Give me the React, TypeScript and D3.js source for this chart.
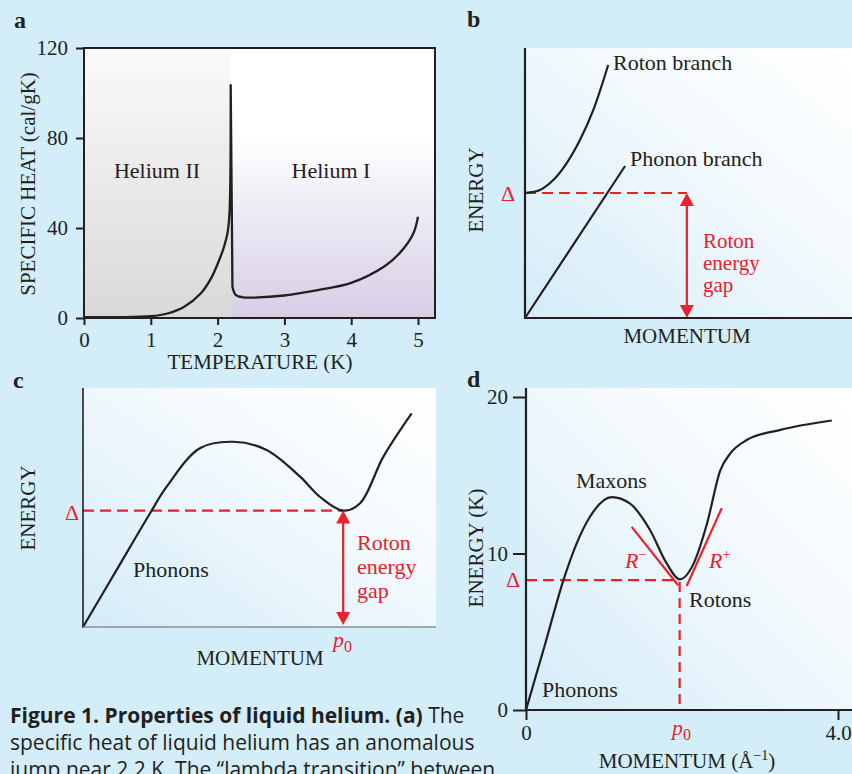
import React from "react";
import * as d3 from "d3";
import { scaleLinear, axisBottom, axisLeft, select, line, curveMonotoneX, curveCatmullRom } from "d3";

const INK = "#231f20";
const RED = "#e8212b";
const BG = "#d3edf9";
const SERIF = "'Liberation Serif', 'Times New Roman', serif";
const SANS = "'Open Sans', 'Noto Sans', sans-serif";

// (a) specific heat of liquid helium vs temperature: below and above the lambda point
const tempBelow = [0, 0.5, 1.0, 1.25, 1.5, 1.75, 1.9, 2.0, 2.1, 2.15, 2.18, 2.196];
const heatBelow = [0.4, 0.4, 0.8, 2, 5, 11, 17.5, 24, 32, 38, 48, 103.5];
const tempAbove = [2.196, 2.212, 2.222];
const heatAbove = [103.5, 50, 14];
const tempHigh = [2.222, 2.27, 2.38, 2.55, 3.0, 3.5, 4.0, 4.5, 4.73, 4.93, 5.0];
const heatHigh = [14, 10.3, 9.2, 9.1, 10, 12.4, 15.6, 23, 29, 37.6, 45];
const heatTicks = [0, 40, 80, 120];
const tempTicks = [0, 1, 2, 3, 4, 5];
const lambdaT = 2.2;

// (b) two-branch picture (arbitrary units)
const rotonP = [0, 0.046, 0.087, 0.128, 0.169, 0.21, 0.256];
const rotonE = [0.463, 0.474, 0.511, 0.573, 0.659, 0.77, 0.937];
const phononP = [0, 0.308];
const phononE = [0, 0.563];
const gapB = 0.463;
const arrowPB = 0.498;

// (c) single dispersion curve (arbitrary units)
const momC = [0, 0.095, 0.19, 0.237, 0.331, 0.426, 0.52, 0.615, 0.671, 0.737, 0.785, 0.851, 0.931];
const energyC = [0, 0.238, 0.476, 0.587, 0.748, 0.775, 0.741, 0.629, 0.545, 0.487, 0.518, 0.713, 0.894];
const gapC = 0.487;
const p0C = 0.737;

// (d) measured dispersion, energy in K vs momentum in 1/Å
const momD = [0, 0.25, 0.48, 0.65, 0.82, 1.1, 1.33, 1.59, 1.8, 1.97, 2.15, 2.32, 2.49, 2.62, 2.83, 3.26, 3.92];
const energyD = [0, 4.3, 8.3, 10.65, 12.35, 13.6, 13.2, 11.5, 9.4, 8.35, 9.37, 11.9, 15.3, 16.4, 17.25, 17.9, 18.5];
const gapD = 8.3;
const p0D = 1.97;
const rMinus = [[1.355, 11.7], [1.95, 7.97]];
const rPlus = [[2.06, 7.92], [2.51, 12.9]];
const energyTicksD = [0, 10, 20];
const momTicksD = [0, 4];

const xA = scaleLinear().domain([0, 5]).range([84, 418]);
const yA = scaleLinear().domain([0, 120]).range([318, 48]);
const xB = scaleLinear().domain([0, 1]).range([525, 850]);
const yB = scaleLinear().domain([0, 1]).range([318, 48]);
const xC = scaleLinear().domain([0, 1]).range([83, 436]);
const yC = scaleLinear().domain([0, 1]).range([627, 388]);
const xD = scaleLinear().domain([0, 4]).range([526, 838]);
const yD = scaleLinear().domain([0, 20]).range([710, 397]);

function curvePath(xs, ys, sx, sy, curve = curveMonotoneX) {
  const pts = xs.map((x, i) => [x, ys[i]]);
  return line()
    .x((d) => sx(d[0]))
    .y((d) => sy(d[1]))
    .curve(curve)(pts);
}

function styleAxis(el, axis) {
  const g = select(el).call(axis);
  g.attr("font-family", SERIF).attr("font-size", 21);
  g.select(".domain").remove();
  g.selectAll("line").attr("stroke", INK).attr("stroke-width", 2);
  g.selectAll("text").attr("fill", INK);
}

function Arrow({ x, top, bottom }) {
  const hl = 13;
  const hw = 7;
  return (
    <g>
      <line x1={x} x2={x} y1={top + hl - 1} y2={bottom - hl + 1} stroke={RED} strokeWidth={2.2} />
      <path d={`M${x},${top}L${x - hw},${top + hl}L${x + hw},${top + hl}Z`} fill={RED} />
      <path d={`M${x},${bottom}L${x - hw},${bottom - hl}L${x + hw},${bottom - hl}Z`} fill={RED} />
    </g>
  );
}

function GapLabel({ x, y, step, size = 22 }) {
  return (
    <text x={x} y={y} fontFamily={SERIF} fontSize={size} fill={RED}>
      <tspan x={x}>Roton</tspan>
      <tspan x={x} dy={step}>energy</tspan>
      <tspan x={x} dy={step}>gap</tspan>
    </text>
  );
}

function P0({ x, y }) {
  return (
    <text x={x} y={y} fill={RED} fontSize={22} fontFamily={SERIF}>
      <tspan fontStyle="italic">p</tspan>
      <tspan fontSize={16} dy={5}>0</tspan>
    </text>
  );
}

export default function App() {
  const dash = "11,6";
  const smooth = curveCatmullRom.alpha(0.5);

  const xAxisA = (el) => el && styleAxis(el, axisBottom(xA).tickValues(tempTicks).tickSize(7).tickPadding(7).tickFormat(d3.format("d")));
  const yAxisA = (el) => el && styleAxis(el, axisLeft(yA).tickValues(heatTicks).tickSize(8).tickPadding(8));
  const xAxisD = (el) =>
    el && styleAxis(el, axisBottom(xD).tickValues(momTicksD).tickSize(10).tickPadding(5).tickFormat((d) => (d === 0 ? "0" : d.toFixed(1))));
  const yAxisD = (el) => el && styleAxis(el, axisLeft(yD).tickValues(energyTicksD).tickSize(13).tickPadding(5));

  const heatPath =
    curvePath(tempBelow, heatBelow, xA, yA, smooth) +
    curvePath(tempAbove, heatAbove, xA, yA, d3.curveLinear).replace(/^M/, "L") +
    curvePath(tempHigh, heatHigh, xA, yA, smooth).replace(/^M/, "L");

  return (
    <div style={{ position: "absolute", left: 0, top: 0 }}>
      <svg width={852} height={774} style={{ display: "block" }}>
        <defs>
          <linearGradient id="gA1" x1="0" y1="0" x2="0" y2="1">
            <stop offset="0" stopColor="#fafafa" />
            <stop offset="1" stopColor="#d9d9d9" />
          </linearGradient>
          <linearGradient id="gA2" x1="0" y1="0" x2="0" y2="1">
            <stop offset="0" stopColor="#ffffff" />
            <stop offset="0.32" stopColor="#ffffff" />
            <stop offset="1" stopColor="#d6cee5" />
          </linearGradient>
          <linearGradient id="gBlue" x1="0" y1="1" x2="1" y2="0">
            <stop offset="0" stopColor="#d4ecf8" />
            <stop offset="0.6" stopColor="#f4fafd" />
            <stop offset="1" stopColor="#ffffff" />
          </linearGradient>
        </defs>
        <rect width={852} height={774} fill={BG} />

        {/* panel a */}
        <text x={14} y={28} fontFamily={SERIF} fontWeight="bold" fontSize={24} fill={INK}>a</text>
        <rect x={xA(0)} y={yA(120)} width={xA(lambdaT) - xA(0)} height={yA(0) - yA(120)} fill="url(#gA1)" />
        <rect x={xA(lambdaT)} y={yA(120)} width={435 - xA(lambdaT)} height={yA(0) - yA(120)} fill="url(#gA2)" />
        <text x={157} y={178} textAnchor="middle" fontFamily={SERIF} fontSize={22} fill={INK}>Helium II</text>
        <text x={331} y={178} textAnchor="middle" fontFamily={SERIF} fontSize={22} fill={INK}>Helium I</text>
        <path d={heatPath} fill="none" stroke={INK} strokeWidth={2.3} strokeLinejoin="round" />
        <rect x={xA(0)} y={yA(120)} width={435 - xA(0)} height={yA(0) - yA(120)} fill="none" stroke={INK} strokeWidth={2} />
        <g ref={xAxisA} transform={`translate(0,${yA(0)})`} />
        <g ref={yAxisA} transform={`translate(${xA(0)},0)`} />
        <text transform="translate(35,184) rotate(-90)" textAnchor="middle" fontFamily={SERIF} fontSize={21} fill={INK}>
          SPECIFIC HEAT (cal/gK)
        </text>
        <text x={260} y={369} textAnchor="middle" fontFamily={SERIF} fontSize={21} fill={INK}>TEMPERATURE (K)</text>

        {/* panel b */}
        <text x={467} y={27} fontFamily={SERIF} fontWeight="bold" fontSize={24} fill={INK}>b</text>
        <rect x={xB(0)} y={yB(1)} width={852 - xB(0)} height={yB(0) - yB(1)} fill="url(#gBlue)" />
        <line x1={xB(0)} x2={xB(arrowPB)} y1={yB(gapB)} y2={yB(gapB)} stroke={RED} strokeWidth={2.2} strokeDasharray={dash} />
        <path d={curvePath(rotonP, rotonE, xB, yB, smooth)} fill="none" stroke={INK} strokeWidth={2.2} />
        <path d={curvePath(phononP, phononE, xB, yB)} fill="none" stroke={INK} strokeWidth={2.2} />
        <Arrow x={xB(arrowPB)} top={yB(gapB)} bottom={yB(0)} />
        <line x1={xB(0)} x2={xB(0)} y1={yB(1)} y2={yB(0) + 1} stroke={INK} strokeWidth={2.2} />
        <line x1={xB(0) - 1} x2={852} y1={yB(0)} y2={yB(0)} stroke={INK} strokeWidth={2.2} />
        <text x={613} y={70} fontFamily={SERIF} fontSize={22} fill={INK}>Roton branch</text>
        <text x={630} y={166} fontFamily={SERIF} fontSize={22} fill={INK}>Phonon branch</text>
        <text x={508} y={201} textAnchor="middle" fontFamily={SERIF} fontSize={22} fill={RED}>Δ</text>
        <GapLabel x={703} y={248} step={22} size={21} />
        <text transform="translate(483,190) rotate(-90)" textAnchor="middle" fontFamily={SERIF} fontSize={21} fill={INK}>ENERGY</text>
        <text x={687} y={343} textAnchor="middle" fontFamily={SERIF} fontSize={21} fill={INK}>MOMENTUM</text>

        {/* panel c */}
        <text x={13} y={388} fontFamily={SERIF} fontWeight="bold" fontSize={24} fill={INK}>c</text>
        <rect x={xC(0)} y={yC(1)} width={xC(1) - xC(0)} height={yC(0) - yC(1)} fill="url(#gBlue)" />
        <line x1={xC(0)} x2={xC(p0C)} y1={yC(gapC)} y2={yC(gapC)} stroke={RED} strokeWidth={2.2} strokeDasharray={dash} />
        <path d={curvePath(momC, energyC, xC, yC, smooth)} fill="none" stroke={INK} strokeWidth={2.2} />
        <Arrow x={xC(p0C)} top={yC(gapC)} bottom={yC(0) - 2} />
        <line x1={xC(0)} x2={xC(0)} y1={yC(1)} y2={yC(0) + 1} stroke={INK} strokeWidth={1.6} />
        <line x1={xC(0)} x2={xC(1)} y1={yC(0)} y2={yC(0)} stroke="#8a8f93" strokeWidth={1.4} />
        <text x={72} y={520} textAnchor="middle" fontFamily={SERIF} fontSize={22} fill={RED}>Δ</text>
        <text x={133} y={577} fontFamily={SERIF} fontSize={22} fill={INK}>Phonons</text>
        <GapLabel x={357} y={550} step={24} />
        <P0 x={333} y={647} />
        <text transform="translate(35,508) rotate(-90)" textAnchor="middle" fontFamily={SERIF} fontSize={21} fill={INK}>ENERGY</text>
        <text x={260} y={665} textAnchor="middle" fontFamily={SERIF} fontSize={21} fill={INK}>MOMENTUM</text>

        {/* panel d */}
        <text x={467} y={387} fontFamily={SERIF} fontWeight="bold" fontSize={24} fill={INK}>d</text>
        <rect x={xD(0)} y={388} width={852 - xD(0)} height={yD(0) - 388} fill="url(#gBlue)" />
        <line x1={xD(0)} x2={xD(p0D) - 5} y1={yD(gapD)} y2={yD(gapD)} stroke={RED} strokeWidth={2.2} strokeDasharray={dash} />
        <line x1={xD(p0D)} x2={xD(p0D)} y1={yD(gapD) + 2} y2={yD(0)} stroke={RED} strokeWidth={2.2} strokeDasharray="10,6" />
        <path d={curvePath(momD, energyD, xD, yD)} fill="none" stroke={INK} strokeWidth={2.2} />
        <line x1={xD(rMinus[0][0])} y1={yD(rMinus[0][1])} x2={xD(rMinus[1][0])} y2={yD(rMinus[1][1])} stroke={RED} strokeWidth={2.2} />
        <line x1={xD(rPlus[0][0])} y1={yD(rPlus[0][1])} x2={xD(rPlus[1][0])} y2={yD(rPlus[1][1])} stroke={RED} strokeWidth={2.2} />
        <line x1={xD(0)} x2={xD(0)} y1={388} y2={yD(0)} stroke={INK} strokeWidth={2.2} />
        <line x1={xD(0)} x2={852} y1={yD(0)} y2={yD(0)} stroke={INK} strokeWidth={2.2} />
        <g ref={xAxisD} transform={`translate(0,${yD(0)})`} />
        <g ref={yAxisD} transform={`translate(${xD(0)},0)`} />
        <text x={576} y={488} fontFamily={SERIF} fontSize={22} fill={INK}>Maxons</text>
        <text x={625} y={568} fontFamily={SERIF} fontSize={22} fill={RED}>
          <tspan fontStyle="italic">R</tspan>
          <tspan fontSize={14} dy={-9}>−</tspan>
        </text>
        <text x={709} y={568} fontFamily={SERIF} fontSize={22} fill={RED}>
          <tspan fontStyle="italic">R</tspan>
          <tspan fontSize={14} dy={-9}>+</tspan>
        </text>
        <text x={689} y={607} fontFamily={SERIF} fontSize={22} fill={INK}>Rotons</text>
        <text x={542} y={697} fontFamily={SERIF} fontSize={22} fill={INK}>Phonons</text>
        <text x={513} y={587} textAnchor="middle" fontFamily={SERIF} fontSize={22} fill={RED}>Δ</text>
        <P0 x={672} y={735} />
        <text transform="translate(483,548) rotate(-90)" textAnchor="middle" fontFamily={SERIF} fontSize={21} fill={INK}>ENERGY (K)</text>
        <text x={687} y={768} textAnchor="middle" fontFamily={SERIF} fontSize={21} fill={INK}>
          MOMENTUM (Å<tspan fontSize={14} dy={-8}>−1</tspan>
          <tspan dy={8}>)</tspan>
        </text>

        {/* caption */}
        <text x={10} y={723} fontFamily={SANS} fontSize={21} fill={INK}>
          <tspan fontWeight="bold">Figure 1. Properties of liquid helium. (a)</tspan> The
        </text>
        <text x={10} y={750} fontFamily={SANS} fontSize={21} fill={INK}>specific heat of liquid helium has an anomalous</text>
        <text x={10} y={777} fontFamily={SANS} fontSize={21} fill={INK}>jump near 2.2 K. The “lambda transition” between</text>
      </svg>
    </div>
  );
}
